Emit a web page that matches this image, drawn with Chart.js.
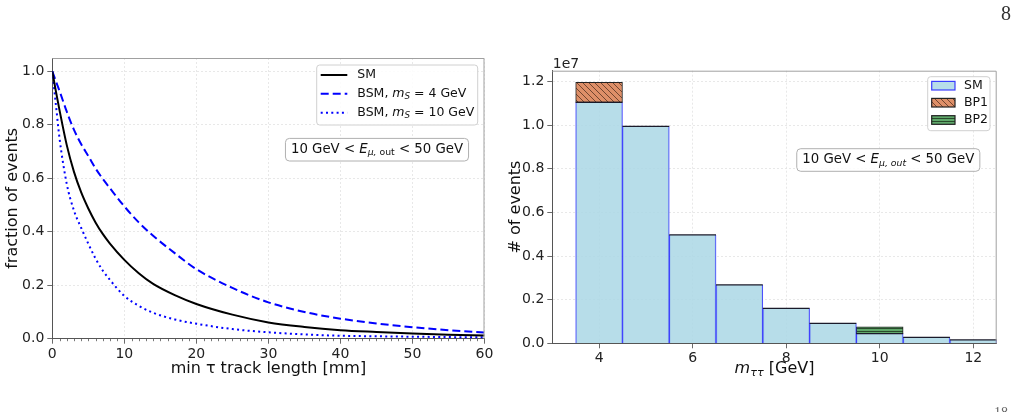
<!DOCTYPE html>
<html><head><meta charset="utf-8">
<script src="https://cdn.jsdelivr.net/npm/chart.js@4.4.1/dist/chart.umd.min.js"></script>
<style>
html,body{margin:0;padding:0;background:#fff;width:1015px;height:412px;overflow:hidden;position:relative}
canvas{position:absolute;top:0}
#c1{left:0}
#c2{left:500px}
.pg{position:absolute;font-family:"Liberation Serif","DejaVu Serif",serif;color:#333}
</style></head><body>
<canvas id="c1" width="500" height="412"></canvas>
<canvas id="c2" width="515" height="412"></canvas>
<div class="pg" style="left:1001px;top:2px;font-size:20px">8</div>
<div class="pg" style="left:994px;top:405px;font-size:14px;color:#666">18</div>
<script>
// ---------- data ----------
const trackLength = [0,0.5,1,2,3,4,5,6,7,8,10,12,14,17,20,25,30,35,40,45,50,55,60];
const fracSM     = [1,0.925,0.855,0.725,0.625,0.548,0.487,0.435,0.392,0.356,0.295,0.245,0.205,0.163,0.13,0.09,0.061,0.044,0.032,0.025,0.019,0.015,0.012];
const fracBSM4   = [1,0.963,0.927,0.85,0.782,0.728,0.683,0.637,0.598,0.563,0.495,0.435,0.385,0.32,0.26,0.19,0.136,0.1,0.075,0.057,0.043,0.032,0.023];
const fracBSM10  = [1,0.875,0.75,0.58,0.48,0.415,0.355,0.3,0.255,0.22,0.16,0.123,0.097,0.072,0.056,0.036,0.024,0.016,0.011,0.009,0.0075,0.006,0.005];
const lineLabels = ['SM','BSM, m_S = 4 GeV','BSM, m_S = 10 GeV'];
const lineXTicks = [0,10,20,30,40,50,60];
const lineYTicks = [0,0.2,0.4,0.6,0.8,1.0];

const massBins  = [4,5,6,7,8,9,10,11,12];
const eventsSM  = [11050000,9950000,4970000,2675000,1605000,917000,443000,275000,153000];
const eventsBP1 = [920000,null,null,null,null,null,null,null,null];
const eventsBP2 = [null,null,null,null,null,null,310000,null,null];
const histLabels = ['SM','BP1','BP2'];
const histXTicks = [4,6,8,10,12];
const histYTicks = [0,2e6,4e6,6e6,8e6,1e7,1.2e7];
const yScaleExp = 1e7;

Chart.defaults.font.family = '"DejaVu Sans", sans-serif';
Chart.defaults.color = '#222';

const FONT = '"DejaVu Sans"';
function segFont(s, size){ return (s.it?'italic ':'') + (s.sub? size*0.7 : size) + 'px ' + FONT; }
function richWidth(ctx, segs, size){
  let w = 0; segs.forEach(s=>{ctx.font=segFont(s,size); w+=ctx.measureText(s.t).width;}); return w;
}
function drawRich(ctx, segs, x, y, size, align){
  const w = richWidth(ctx, segs, size);
  let cx = align==='center' ? x - w/2 : x;
  ctx.textBaseline = 'middle'; ctx.textAlign = 'left';
  segs.forEach(s=>{ ctx.font=segFont(s,size); ctx.fillText(s.t, cx, y + (s.sub? size*0.25:0)); cx += ctx.measureText(s.t).width; });
  return w;
}
function labelSegs(label){
  const m = label.match(/^(.*?)m_S(.*)$/);
  if(!m) return [{t:label}];
  return [{t:m[1]},{t:'m',it:1},{t:'S',it:1,sub:1},{t:m[2]}];
}
function roundBox(ctx,x,y,w,h,r,fill,stroke){
  ctx.beginPath(); ctx.roundRect(x,y,w,h,r); ctx.fillStyle=fill; ctx.fill();
  ctx.lineWidth=1; ctx.strokeStyle=stroke; ctx.stroke();
}
function frameTR(chart,color){
  const a=chart.chartArea, ctx=chart.ctx;
  ctx.save(); ctx.strokeStyle=color; ctx.lineWidth=1; ctx.beginPath();
  ctx.moveTo(a.left,a.top+0.5); ctx.lineTo(a.right-0.5,a.top+0.5); ctx.lineTo(a.right-0.5,a.bottom); ctx.stroke(); ctx.restore();
}
function annotation(ctx, segs, cx, cy, size){
  const w = richWidth(ctx, segs, size);
  roundBox(ctx, cx-w/2-5.5, cy-11.3, w+11, 22.6, 4, 'rgba(255,255,255,0.85)', '#b0b0b0');
  ctx.fillStyle='#111'; drawRich(ctx, segs, cx, cy, size, 'center');
}
const fixTicks = arr => function(s){ s.ticks = arr.map(v=>({value:v})); };

// ---------- left chart ----------
const styles = [
  {color:'#000000', dash:[]},
  {color:'#0000ff', dash:[8,4]},
  {color:'#0000ff', dash:[2,3.3]}
];
const series = [fracSM, fracBSM4, fracBSM10];

const leftPlugin = {
  id:'leftDeco',
  afterDraw(chart){
    const ctx=chart.ctx, a=chart.chartArea, xs=chart.scales.x;
    frameTR(chart,'#a0a0a0');
    ctx.save(); ctx.strokeStyle='#555'; ctx.lineWidth=0.8;
    for(let v=1; v<60; v++){ if(v%10===0) continue; const px=Math.round(xs.getPixelForValue(v))+0.5;
      ctx.beginPath(); ctx.moveTo(px,a.bottom); ctx.lineTo(px,a.bottom+2.5); ctx.stroke(); }
    ctx.restore();
    ctx.save();
    roundBox(ctx,316.7,65,161,60,3,'rgba(255,255,255,0.85)','#d0d0d0');
    const rows=[75,93.7,112.7];
    lineLabels.forEach((lab,i)=>{
      ctx.strokeStyle=styles[i].color; ctx.lineWidth=2; ctx.setLineDash(styles[i].dash);
      ctx.beginPath(); ctx.moveTo(320.7,rows[i]); ctx.lineTo(347.3,rows[i]); ctx.stroke(); ctx.setLineDash([]);
      ctx.fillStyle='#111'; drawRich(ctx,labelSegs(lab),357.3,rows[i],12.5,'left');
    });
    annotation(ctx,[{t:'10 GeV < '},{t:'E',it:1},{t:'μ,',it:1,sub:1},{t:' out',sub:1},{t:' < 50 GeV'}],377,149.7,13.3);
    ctx.restore();
  }
};

new Chart(document.getElementById('c1'),{
  type:'line',
  data:{datasets: series.map((arr,i)=>({
    label: lineLabels[i],
    data: trackLength.map((x,j)=>({x, y: arr[j]})),
    borderColor: styles[i].color, borderDash: styles[i].dash, borderWidth:2,
    pointRadius:0, fill:false, cubicInterpolationMode:'monotone'
  }))},
  options:{
    responsive:false, animation:false, events:[],
    layout:{padding:{left:0,right:15.5,top:58,bottom:0}},
    plugins:{legend:{display:false},tooltip:{enabled:false}},
    scales:{
      x:{type:'linear',min:0,max:60,
        afterBuildTicks: fixTicks(lineXTicks),
        ticks:{maxRotation:0,autoSkip:false,padding:2,color:'#222',font:{size:14}},
        grid:{color:'#e2e2e2',lineWidth:0.8,tickColor:'#444',tickLength:5},
        border:{color:'#555',width:1,dash:[2,2]},
        title:{display:true,text:'min τ track length [mm]',font:{size:16},color:'#111',padding:{top:0,bottom:33.8}},
        afterFit(s){ s.height=73.3; }
      },
      y:{min:0,max:1.05,
        afterBuildTicks: fixTicks(lineYTicks),
        ticks:{autoSkip:false,padding:3,color:'#222',font:{size:14},callback:v=>v.toFixed(1)},
        grid:{color:'#e2e2e2',lineWidth:0.8,tickColor:'#444',tickLength:5},
        border:{color:'#555',width:1,dash:[2,2]},
        title:{display:true,text:'fraction of events',font:{size:16},color:'#111',padding:{top:3,bottom:0}},
        afterFit(s){ s.width=52.3; }
      }
    }
  },
  plugins:[leftPlugin]
});

// ---------- right chart ----------
function hatch(bg, kind){
  const c=document.createElement('canvas'); const g=c.getContext('2d');
  if(kind==='diag'){
    c.width=6; c.height=6; g.fillStyle=bg; g.fillRect(0,0,6,6);
    g.strokeStyle='rgba(40,20,10,0.75)'; g.lineWidth=0.8;
    g.beginPath(); g.moveTo(-1,-1); g.lineTo(7,7); g.moveTo(-1,5); g.lineTo(1,7); g.moveTo(5,-1); g.lineTo(7,1); g.stroke();
  } else {
    c.width=6; c.height=3; g.fillStyle=bg; g.fillRect(0,0,6,3);
    g.fillStyle='rgba(20,40,20,0.8)'; g.fillRect(0,1,6,0.9);
  }
  return g.createPattern(c,'repeat');
}
const colSM='rgba(173,216,230,0.88)', edgeSM='rgba(30,30,255,0.85)';
const fillBP1='#de8f68', fillBP2='#5fa86a';
const pBP1=hatch(fillBP1,'diag'), pBP2=hatch(fillBP2,'horiz');

const rightPlugin = {
  id:'rightDeco',
  afterDatasetsDraw(chart){
    const ctx=chart.ctx; const meta=chart.getDatasetMeta(0);
    ctx.save(); ctx.strokeStyle='#1a1a2a'; ctx.lineWidth=1.3;
    meta.data.forEach(b=>{ const {x,y,width}=b.getProps(['x','y','width'],true);
      ctx.beginPath(); ctx.moveTo(x-width/2,y); ctx.lineTo(x+width/2,y); ctx.stroke(); });
    ctx.restore();
  },
  afterDraw(chart){
    const ctx=chart.ctx, a=chart.chartArea;
    frameTR(chart,'#a0a0a0');
    ctx.save();
    ctx.fillStyle='#222'; ctx.font='14px '+FONT; ctx.textAlign='left'; ctx.textBaseline='middle';
    ctx.fillText('1e'+Math.round(Math.log10(yScaleExp)), a.left+0.5, 64);
    ctx.fillStyle='#111';
    drawRich(ctx,[{t:'m',it:1},{t:'ττ',it:1,sub:1},{t:' [GeV]'}],(a.left+a.right)/2,369,16,'center');
    roundBox(ctx,427.7,76.7,62.3,54,3,'rgba(255,255,255,0.85)','#d0d0d0');
    const rows=[85.7,102.7,120];
    const fills=[colSM,pBP1,pBP2], edges=[edgeSM,'#222','#222'];
    histLabels.forEach((lab,i)=>{
      ctx.fillStyle=fills[i]; ctx.fillRect(431.7,rows[i]-4.3,23.3,8.6);
      ctx.strokeStyle=edges[i]; ctx.lineWidth=1.2; ctx.strokeRect(431.7,rows[i]-4.3,23.3,8.6);
      ctx.fillStyle='#111'; ctx.font='12.5px '+FONT; ctx.textBaseline='middle'; ctx.textAlign='left';
      ctx.fillText(lab,464,rows[i]);
    });
    annotation(ctx,[{t:'10 GeV < '},{t:'E',it:1},{t:'μ, out',it:1,sub:1},{t:' < 50 GeV'}],388.3,160,13.3);
    ctx.restore();
  }
};

const barCommon = {barPercentage:1, categoryPercentage:1, borderSkipped:false};
new Chart(document.getElementById('c2'),{
  type:'bar',
  data:{datasets:[
    Object.assign({label:histLabels[0], data:massBins.map((x,i)=>({x,y:eventsSM[i]})),
      backgroundColor:colSM, borderColor:edgeSM, borderWidth:{left:1,right:1,top:0,bottom:0}},barCommon),
    Object.assign({label:histLabels[1], data:massBins.map((x,i)=>({x,y:eventsBP1[i]})),
      backgroundColor:pBP1, borderColor:'#222', borderWidth:1},barCommon),
    Object.assign({label:histLabels[2], data:massBins.map((x,i)=>({x,y:eventsBP2[i]})),
      backgroundColor:pBP2, borderColor:'#222', borderWidth:1},barCommon)
  ]},
  options:{
    responsive:false, animation:false, events:[],
    layout:{padding:{left:0,right:18.3,top:70.7,bottom:0}},
    plugins:{legend:{display:false},tooltip:{enabled:false}},
    scales:{
      x:{type:'linear',min:3,max:12.5,stacked:true,offset:false,
        afterBuildTicks: fixTicks(histXTicks),
        ticks:{maxRotation:0,autoSkip:false,padding:2,color:'#222',font:{size:14}},
        grid:{offset:false,color:'#e2e2e2',lineWidth:0.8,tickColor:'#444',tickLength:5},
        border:{color:'#555',width:1,dash:[2,2]},
        afterFit(s){ s.height=68.7; }
      },
      y:{min:0,max:1.25e7,stacked:true,
        afterBuildTicks: fixTicks(histYTicks),
        ticks:{autoSkip:false,padding:3,color:'#222',font:{size:14},callback:v=>(v/yScaleExp).toFixed(1)},
        grid:{color:'#e2e2e2',lineWidth:0.8,tickColor:'#444',tickLength:5},
        border:{color:'#555',width:1,dash:[2,2]},
        title:{display:true,text:'# of events',font:{size:16},color:'#111',padding:{top:6.5,bottom:0}},
        afterFit(s){ s.width=52.3; }
      }
    }
  },
  plugins:[rightPlugin]
});
</script>
</body></html>
